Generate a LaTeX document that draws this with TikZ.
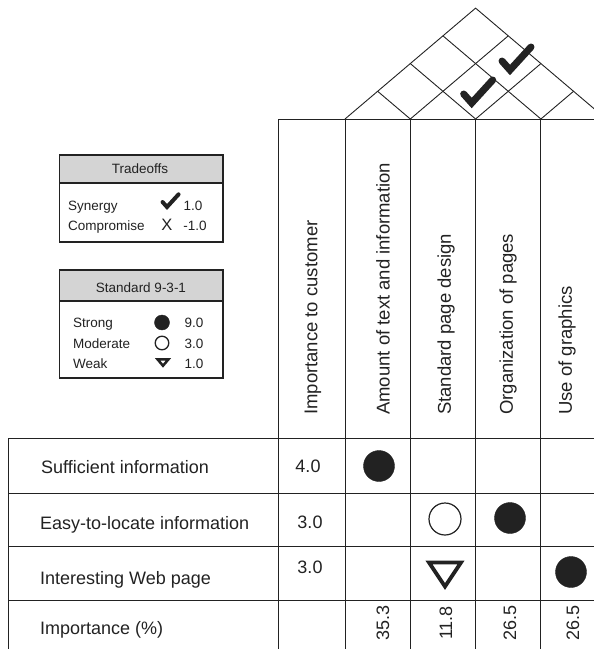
\documentclass[tikz,border=0pt]{standalone}
\usepackage{fontspec}
\setmainfont{Liberation Sans}
\usetikzlibrary{positioning}
\definecolor{inkColor}{HTML}{222222}
\definecolor{legendHead}{HTML}{D4D4D4}
\tikzstyle{pixelGrid} = [x = 1pt, y = -1pt, every node/.style={text=inkColor, inner sep=0pt}]
\tikzstyle{gridLine} = [color=inkColor, line width=0.9pt]
\tikzstyle{legendBox} = [draw=inkColor, line width=1.1pt]
\tikzstyle{mainText} = [font=\fontsize{18}{21}\selectfont]
\tikzstyle{headText} = [font=\fontsize{18.5}{21}\selectfont, rotate=90, anchor=west]
\tikzstyle{valueText} = [font=\fontsize{18}{21}\selectfont, rotate=90]
\tikzstyle{legendText} = [font=\fontsize{13.5}{16}\selectfont]
\tikzstyle{checkStyle} = [color=inkColor, line cap=round, line join=miter]
\tikzstyle{strongStyle} = [fill=inkColor, draw=inkColor]
\tikzstyle{moderateStyle} = [draw=inkColor, fill=white]
\tikzstyle{weakStyle} = [draw=inkColor, line join=miter]
\newcommand{\colW}{65.3}
\newcommand{\roofSlope}{0.849}
\newcommand{\strongMark}[3]{\filldraw [strongStyle] (#1, #2) circle [radius=#3];}
\newcommand{\moderateMark}[4]{\draw [moderateStyle, line width=#4] (#1, #2) circle [radius=#3];}
\newcommand{\weakMark}[5]{\draw [weakStyle, line width=#5] (#1 - #3, #2 - #4/2) -- (#1 + #3, #2 - #4/2) -- (#1, #2 + #4/2) -- cycle;}
\newcommand{\checkMark}[4]{\draw [checkStyle, line width=#4] (#1 - 8*#3, #2 - 9*#3) -- (#1, #2) -- (#1 + 21*#3, #2 - 23*#3);}
\newcommand{\roofLines}[3]{
  \pgfmathsetmacro{\roofWidth}{#3 * \colW}
  \pgfmathtruncatemacro{\lastInner}{#3 - 1}
  \draw [gridLine] (#1, #2) -- ++(\roofWidth/2, -\roofSlope*\roofWidth/2) -- ++(\roofWidth/2, \roofSlope*\roofWidth/2);
  \foreach \i in {1,...,\lastInner} {
    \pgfmathsetmacro{\baseX}{#1 + \i*\colW}
    \pgfmathsetmacro{\halfLeft}{\i*\colW/2}
    \pgfmathsetmacro{\halfRight}{(\roofWidth - \i*\colW)/2}
    \draw [gridLine] (\baseX, #2) -- ++(-\halfLeft, -\roofSlope*\halfLeft);
    \draw [gridLine] (\baseX, #2) -- ++(\halfRight, -\roofSlope*\halfRight);
  }
}
\begin{document}
\begin{tikzpicture}[pixelGrid]
        \useasboundingbox (0,0) rectangle (594,649);
        % roof
        \roofLines{345}{119}{4}
        \checkMark{471.7}{103}{1}{7}
        \checkMark{510}{70}{1}{7}
        % matrix
        \foreach \x in {278, 345, 410.3, 475.6, 540.9} {
          \draw [gridLine] (\x, 119) -- (\x, 649);
        }
        \draw [gridLine] (278, 119) -- (594, 119);
        \foreach \y in {438, 493, 546.5, 600} {
          \draw [gridLine] (8, \y) -- (594, \y);
        }
        \draw [gridLine] (8, 438) -- (8, 649);
        \node [headText] (headImportance) at (313, 415) {Importance to customer};
        \node [headText] (headAmount) at (383, 415) {Amount of text and information};
        \node [headText] (headDesign) at (446, 415) {Standard page design};
        \node [headText] (headOrganization) at (508, 415) {Organization of pages};
        \node [headText] (headGraphics) at (567, 415) {Use of graphics};
        \node [mainText, anchor=base west] (rowSufficient) at (41, 473.5) {Sufficient information};
        \node [mainText, anchor=base west] (rowEasy) at (40, 529.5) {Easy-to-locate information};
        \node [mainText, anchor=base west] (rowInteresting) at (40, 584.5) {Interesting Web page};
        \node [mainText, anchor=base west] (rowImportance) at (40, 634.5) {Importance (\%)};
        \node [mainText, anchor=base] (weightSufficient) at (308, 472.5) {4.0};
        \node [mainText, anchor=base] (weightEasy) at (310, 528.5) {3.0};
        \node [mainText, anchor=base] (weightInteresting) at (310, 573.5) {3.0};
        \node [valueText] (valueAmount) at (383, 623) {35.3};
        \node [valueText] (valueDesign) at (446, 623) {11.8};
        \node [valueText] (valueOrganization) at (510, 623) {26.5};
        \node [valueText] (valueGraphics) at (573, 623) {26.5};
        \strongMark{379}{466}{15.5}
        \moderateMark{445}{519}{16}{1.2}
        \strongMark{510}{518}{15.5}
        \weakMark{445}{574.5}{16}{24}{3.8}
        \strongMark{571}{572}{15.5}
        % legend: tradeoffs
        \filldraw [legendBox, fill=legendHead] (59.5, 155) rectangle (223, 183);
        \filldraw [legendBox, fill=white] (59.5, 183) rectangle (223, 242);
        \node [legendText, anchor=base] (tradeoffsTitle) at (140, 173) {Tradeoffs};
        \node [legendText, anchor=base west] (synergyLabel) at (68, 210.5) {Synergy};
        \node [legendText, anchor=base west] (compromiseLabel) at (68, 230) {Compromise};
        \checkMark{167}{207}{0.55}{4}
        \node [font=\fontsize{16.5}{18}\selectfont, anchor=base] (compromiseSign) at (167, 230) {X};
        \node [legendText, anchor=base] (synergyValue) at (193, 210.5) {1.0};
        \node [legendText, anchor=base] (compromiseValue) at (195, 230) {-1.0};
        % legend: standard 9-3-1
        \filldraw [legendBox, fill=legendHead] (59.5, 270) rectangle (223, 301);
        \filldraw [legendBox, fill=white] (59.5, 301) rectangle (223, 378);
        \node [legendText, anchor=base] (standardTitle) at (141, 292.8) {Standard 9-3-1};
        \node [legendText, anchor=base west] (strongLabel) at (73, 327.5) {Strong};
        \node [legendText, anchor=base west] (moderateLabel) at (73, 348.3) {Moderate};
        \node [legendText, anchor=base west] (weakLabel) at (73, 368.3) {Weak};
        \strongMark{162}{322.5}{7.5}
        \moderateMark{162}{343}{6.8}{1.3}
        \weakMark{163}{362.5}{5.5}{6.5}{2.5}
        \node [legendText, anchor=base] (strongValue) at (194, 327.5) {9.0};
        \node [legendText, anchor=base] (moderateValue) at (194, 348.3) {3.0};
        \node [legendText, anchor=base] (weakValue) at (194, 368.3) {1.0};
\end{tikzpicture}
\end{document}
